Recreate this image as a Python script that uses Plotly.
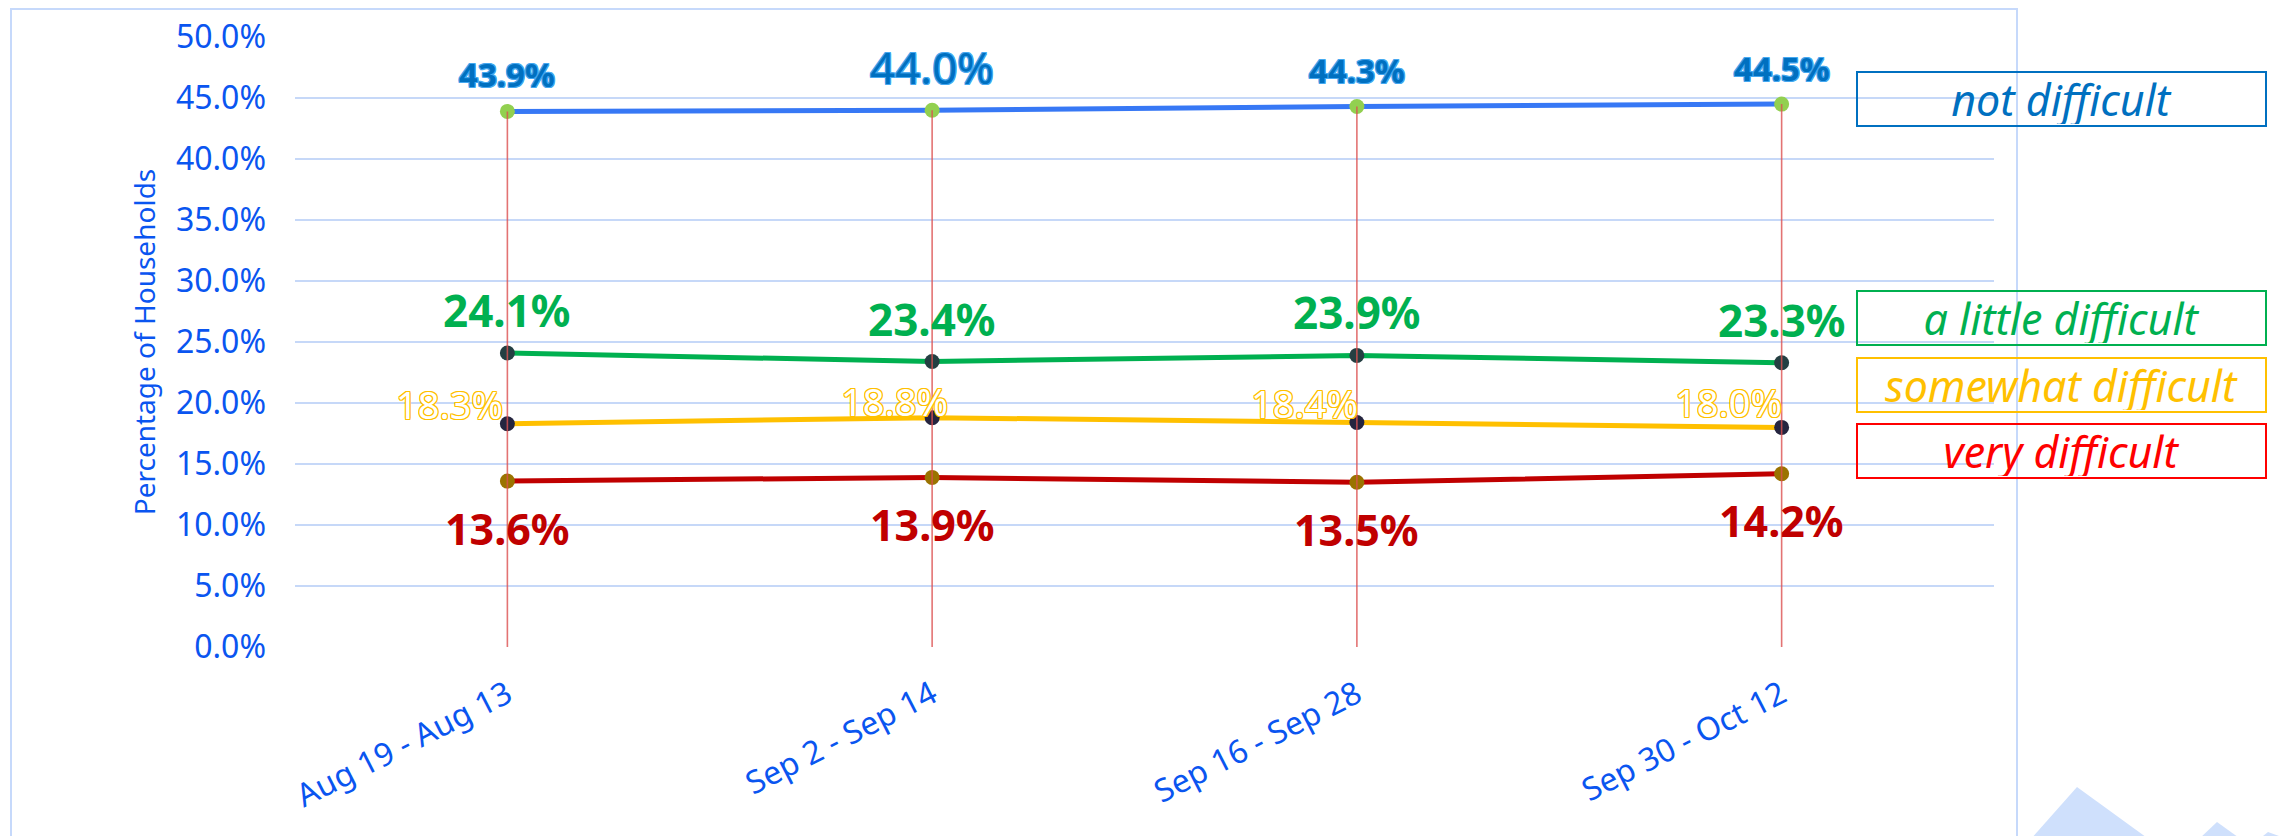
import plotly.graph_objects as go

# ---------------- data ----------------
categories = ["Aug 19 - Aug 13", "Sep 2 - Sep 14", "Sep 16 - Sep 28", "Sep 30 - Oct 12"]
not_difficult = [43.9, 44.0, 44.3, 44.5]
a_little_difficult = [24.1, 23.4, 23.9, 23.3]
somewhat_difficult = [18.3, 18.8, 18.4, 18.0]
very_difficult = [13.6, 13.9, 13.5, 14.2]
series_names = ["not difficult", "a little difficult", "somewhat difficult", "very difficult"]
y_ticks = [0, 5, 10, 15, 20, 25, 30, 35, 40, 45, 50]

# ---------------- styling ----------------
W, H = 2282, 836
PL, PR, PT, PB = 295, 1994, 37, 647
FONT = "Noto Sans"
AXIS_BLUE = "#0a55f0"
GRID = "#c6d8f8"


def px_x(px):
    return (px - PL) / (PR - PL)


def px_y(py):
    return (PB - py) / (PB - PT)


def outline(color, d=1):
    offs = [(d, 0), (-d, 0), (0, d), (0, -d), (d, d), (-d, -d), (d, -d), (-d, d)]
    return ", ".join(f"{a}px {b}px 0 {color}" for a, b in offs)


fig = go.Figure()

line_styles = [
    (not_difficult, "#3778f5", 5, "#92d050"),
    (a_little_difficult, "#00b050", 5, "#243f42"),
    (somewhat_difficult, "#ffc000", 5, "#25253f"),
    (very_difficult, "#c00000", 5, "#9a7300"),
]
for (vals, lc, lw, mc), name in zip(line_styles, series_names):
    fig.add_trace(go.Scatter(
        x=categories, y=vals, mode="lines+markers", name=name,
        line=dict(color=lc, width=lw),
        marker=dict(color=mc, size=15),
        showlegend=False, hoverinfo="skip",
    ))

# drop lines from the top series down to the axis
drop_x, drop_y = [], []
for c, v in zip(categories, not_difficult):
    drop_x += [c, c, None]
    drop_y += [v, 0, None]
fig.add_trace(go.Scatter(
    x=drop_x, y=drop_y, mode="lines",
    line=dict(color="rgba(220,80,80,0.8)", width=1.6),
    showlegend=False, hoverinfo="skip",
))

annotations = []

# not difficult labels (above)
nd_sizes = [33, 44, 33, 33]
nd_weights = ["bold", "normal", "bold", "bold"]
nd_shift = [37, 43, 36, 36]
for c, v, s, wgt, sh in zip(categories, not_difficult, nd_sizes, nd_weights, nd_shift):
    annotations.append(dict(
        x=c, y=v, text=f"{v:.1f}%", showarrow=False, yshift=sh,
        xanchor="center", yanchor="middle",
        font=dict(family=FONT, size=s, color="#0070c0", weight=wgt,
                  shadow=outline("#45a8f0")),
    ))

# a little difficult labels (above)
for c, v in zip(categories, a_little_difficult):
    annotations.append(dict(
        x=c, y=v, text=f"{v:.1f}%", showarrow=False, yshift=43,
        xanchor="center", yanchor="middle",
        font=dict(family=FONT, size=44, color="#00b050", weight="bold"),
    ))

# somewhat difficult labels (upper left, outlined)
sw_xshift = [-58, -38, -52, -53]
sw_yshift = [20, 17, 20, 25]
for c, v, xs, ys in zip(categories, somewhat_difficult, sw_xshift, sw_yshift):
    annotations.append(dict(
        x=c, y=v, text=f"{v:.1f}%", showarrow=False, xshift=xs, yshift=ys,
        xanchor="center", yanchor="middle",
        font=dict(family=FONT, size=38, color="#ffffff",
                  shadow=outline("#ffc000")),
    ))

# very difficult labels (below)
for c, v in zip(categories, very_difficult):
    annotations.append(dict(
        x=c, y=v, text=f"{v:.1f}%", showarrow=False, yshift=-47,
        xanchor="center", yanchor="middle",
        font=dict(family=FONT, size=43, color="#c00000", weight="bold"),
    ))

# legend boxes
box_cy = [99, 318, 385, 451]
box_col = ["#0070c0", "#00b050", "#ffc000", "#ff0000"]
for name, cy, col in zip(series_names, box_cy, box_col):
    annotations.append(dict(
        xref="paper", yref="paper", x=px_x(2061.5), y=px_y(cy),
        xanchor="center", yanchor="middle", showarrow=False,
        text=name, width=405, height=50, align="center", valign="middle",
        bordercolor=col, borderwidth=2, borderpad=1, bgcolor="rgba(0,0,0,0)",
        font=dict(family=FONT, size=43, color=col, style="italic"),
    ))

shapes = [
    dict(type="rect", xref="paper", yref="paper",
         x0=px_x(11), x1=px_x(2017), y0=px_y(900), y1=px_y(9),
         line=dict(color="#c6d9fb", width=2), fillcolor="rgba(0,0,0,0)", layer="below"),
]
tri_pts = [
    [(2030, 840), (2077, 787), (2150, 840)],
    [(2198, 840), (2217, 822), (2242, 840)],
    [(2258, 840), (2268, 832), (2290, 840)],
]
for pts in tri_pts:
    path = "M " + " L ".join(f"{px_x(a)},{px_y(b)}" for a, b in pts) + " Z"
    shapes.append(dict(type="path", xref="paper", yref="paper", path=path,
                       fillcolor="#cfe0fc", line=dict(width=0), layer="below"))

fig.update_layout(
    width=W, height=H,
    margin=dict(l=PL, r=W - PR, t=PT, b=H - PB, autoexpand=False),
    paper_bgcolor="white", plot_bgcolor="white",
    annotations=annotations, shapes=shapes,
    showlegend=False,
    xaxis=dict(
        type="category", range=[-0.5, 3.5], showgrid=False, zeroline=False,
        showline=False, ticks="", tickangle=-27, ticklabelstandoff=22,
        tickfont=dict(family=FONT, size=32, color=AXIS_BLUE),
    ),
    yaxis=dict(
        range=[0, 50], tickvals=y_ticks, ticktext=[f"{t:.1f}%" for t in y_ticks],
        showgrid=True, gridcolor=GRID, gridwidth=2, zeroline=False,
        showline=False, ticks="", ticklabelstandoff=28,
        tickfont=dict(family=FONT, size=32, color=AXIS_BLUE),
        title=dict(text="Percentage of Households", standoff=12,
                   font=dict(family=FONT, size=28, color=AXIS_BLUE)),
    ),
)

fig.write_html(
    "out.html",
    config={"displayModeBar": False},
    post_script="document.body.style.margin='0';document.body.style.overflow='hidden';",
)
